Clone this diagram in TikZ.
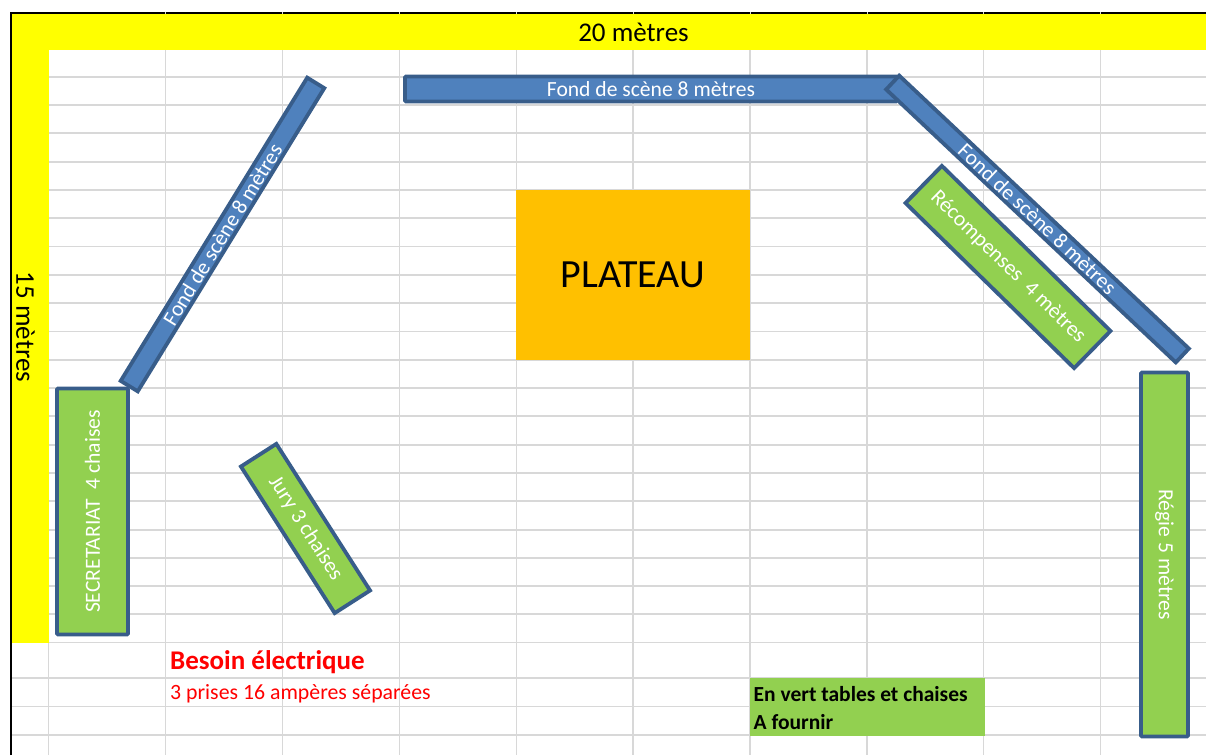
\documentclass[tikz,border=0pt]{standalone}
\usepackage{fontspec}
\setmainfont{Carlito}
\definecolor{gridc}{HTML}{D8D8D8}
\definecolor{bluef}{HTML}{4F81BD}
\definecolor{edgec}{HTML}{385D8A}
\definecolor{greenf}{HTML}{92D050}
\definecolor{platc}{HTML}{FFC000}
\definecolor{bannerc}{HTML}{FFFF00}
\definecolor{redc}{HTML}{FF0000}
\newcommand{\fsz}[1]{\fontsize{#1}{#1}\selectfont}
\tikzset{
  gridline/.style={draw=gridc,line width=1.1pt},
  panel/.style={draw=edgec,line width=3.8pt,inner sep=0pt,text=white,font=\fsz{21.6}},
  bluepanel/.style={panel,fill=bluef},
  greenpanel/.style={panel,fill=greenf},
  banner/.style={inner sep=0pt,font=\fsz{27}},
  redlabel/.style={inner sep=0pt,anchor=west,text=redc},
  legendline/.style={inner sep=0pt,anchor=west,font=\fsz{21.5}\bfseries}
}
\begin{document}
\begin{tikzpicture}[x=1pt,y=-1pt]
\useasboundingbox (0,0) rectangle (1206,755);
\fill[white] (0,0) rectangle (1206,755);
% grid
\foreach \gx in {48.5,165.5,282.5,399.5,516.5,633,750,867,983.5,1100.5}
  \draw[gridline] (\gx,12) -- (\gx,755);
\foreach \gy in {77,105,133,162,190,218,246.7,275,303,331.7,360,388,416,445,473,501,530,558,586,614}
  \draw[gridline] (49,\gy) -- (1206,\gy);
\foreach \gy in {642.7,678,706.7,735}
  \draw[gridline] (11,\gy) -- (1206,\gy);
% frame
\fill[bannerc] (11,13) rectangle (1206,50);
\fill[bannerc] (11,13) rectangle (49,643);
\draw[black,line width=2pt] (10.5,755) -- (10.5,13) -- (1206,13);
\foreach \gx in {165.5,282.5,399.5,516.5,633,750,867,983.5,1100.5}
  \draw[gridc,line width=1pt] (\gx,12) -- (\gx,14);
\node[banner] (largeur) at (633.5,32) {20 mètres};
\node[banner,rotate=-90] (hauteur) at (25.5,327) {15 mètres};
% plateau
\node[fill=platc,minimum width=234pt,minimum height=170pt,inner sep=0pt,font=\fsz{40}] (plateau) at (633,275) {PLATEAU};
% panels
\node[bluepanel,rounded corners=1pt,minimum width=492pt,minimum height=25pt] (fondhaut) at (651,89) {\raisebox{-1pt}{Fond de scène 8 mètres}};
\node[bluepanel,rotate=-43.3,minimum width=398pt,minimum height=19pt] (fonddroit) at (1037.5,219) {Fond de scène 8 mètres};
\node[bluepanel,rotate=58.4,minimum width=356pt,minimum height=20pt] (fondgauche) at (222.5,234.5) {Fond de scène 8 mètres};
\node[greenpanel,rotate=-44.4,minimum width=236pt,minimum height=52pt] (recomp) at (1008,267) {\raisebox{1pt}{Récompenses\ \ 4 mètres}};
\node[greenpanel,rotate=-57.4,minimum width=174pt,minimum height=42pt] (jury) at (305.5,528.5) {Jury 3 chaises};
\node[greenpanel,rounded corners=1pt,rotate=90,minimum width=246pt,minimum height=71pt] (secret) at (92.5,511.5) {SECRETARIAT\ \ 4 chaises};
\node[greenpanel,rounded corners=1pt,rotate=-90,minimum width=364pt,minimum height=47pt] (regie) at (1164.5,554.5) {Régie 5 mètres};
% notes
\node[redlabel,font=\fsz{27}\bfseries] (besoin) at (170,662) {Besoin électrique};
\node[redlabel,font=\fsz{21.8}] (prises) at (170,694) {3 prises 16 ampères séparées};
\node[fill=greenf,minimum width=235pt,minimum height=58pt,inner sep=0pt] (legende) at (867.5,707) {};
\node[legendline] (vert) at (753.5,694) {En vert tables et chaises};
\node[legendline] (fournir) at (753.5,722.5) {A fournir};
\end{tikzpicture}
\end{document}
